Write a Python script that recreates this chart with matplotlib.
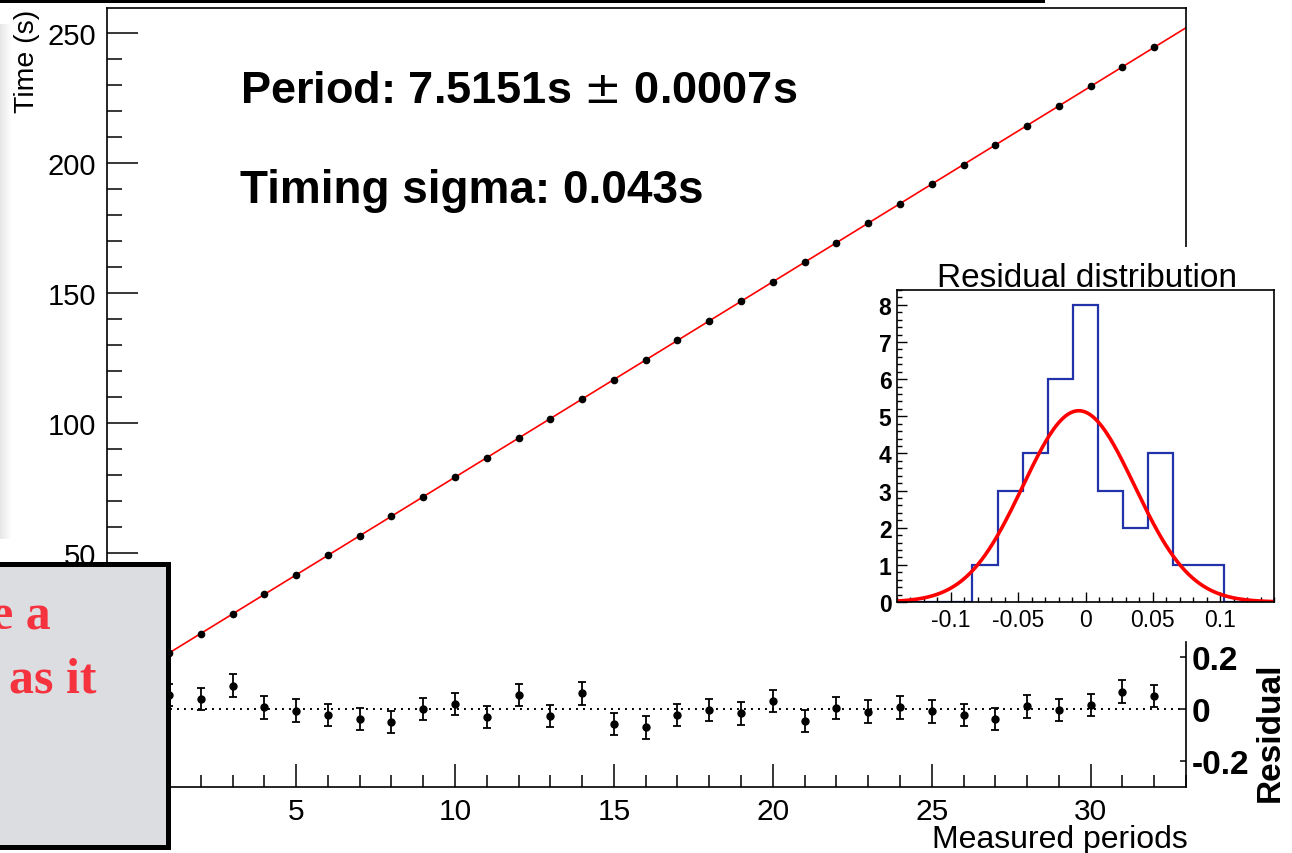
import numpy as np
import matplotlib.pyplot as plt
from matplotlib.patches import Rectangle
from matplotlib.ticker import MultipleLocator

W, H = 1292, 854
plt.rcParams['font.family'] = ['Liberation Sans', 'DejaVu Sans']

# data
periods = list(range(33))
times = [4.0, 11.5, 19.0, 26.6, 34.1, 41.6, 49.1, 56.6, 64.1, 71.6, 79.2,
         86.7, 94.2, 101.7, 109.2, 116.7, 124.2, 131.8, 139.3, 146.8, 154.3,
         161.8, 169.3, 176.8, 184.4, 191.9, 199.4, 206.9, 214.4, 221.9, 229.5,
         237.0, 244.5]
residuals = [0.030, 0.054, 0.038, 0.090, 0.006, -0.006, -0.022, -0.038, -0.051,
             0.000, 0.019, -0.030, 0.055, -0.026, 0.060, -0.058, -0.071, -0.022,
             -0.003, -0.017, 0.032, -0.047, 0.004, -0.010, 0.006, -0.009, -0.023,
             -0.038, 0.010, -0.003, 0.015, 0.067, 0.051]
timing_sigma = 0.043
period = 7.5151
period_err = 0.0007
t_offset = 4.0
time_ticks = [50, 100, 150, 200, 250]

# residual histogram (15 bins between -0.14 and 0.14)
hist_edges = np.linspace(-0.14, 0.14, 16)
hist_counts = [0, 0, 0, 1, 3, 4, 6, 8, 3, 2, 4, 1, 1, 0, 0]
gaus_amp, gaus_mean, gaus_sigma = 5.15, -0.005, 0.0415


def fpos(x0, y0, x1, y1):
    # pixel box -> figure fraction [left, bottom, width, height]
    return [x0 / W, 1 - y1 / H, (x1 - x0) / W, (y1 - y0) / H]


def fxy(x, y):
    return x / W, 1 - y / H


fig = plt.figure(figsize=(W / 100, H / 100), dpi=100)

# faint shadow on left edge
shade = fig.add_axes(fpos(0, 25, 12, 540), zorder=-1)
shade.imshow(np.linspace(0.9, 1.0, 50)[None, :], aspect='auto', cmap='gray',
             vmin=0, vmax=1, extent=(0, 1, 0, 1))
shade.axis('off')

# ---- main graph ----
ax = fig.add_axes(fpos(107, 9, 1186, 788), zorder=0)
ax.set_xlim(-0.95, 33)
ax.set_ylim(-40, 259.6)
xx = np.array(ax.get_xlim())
ax.plot(xx, t_offset + period * xx, color='red', lw=1.2)
ax.plot(periods, times, 'o', color='black', ms=4.5)
ax.spines['bottom'].set_visible(False)
ax.spines['right'].set_bounds(160, 259.6)
for s in ax.spines.values():
    s.set_linewidth(1.2)
ax.set_xticks([])
ax.set_yticks(time_ticks)
ax.yaxis.set_minor_locator(MultipleLocator(10))
ax.tick_params(axis='y', which='major', direction='in', length=22, width=1.1,
               labelsize=21, pad=8)
ax.tick_params(axis='y', which='minor', direction='in', length=11, width=1.1)
fig.text(*fxy(27, 61), 'Time (s)', rotation=90, ha='center', va='center',
         fontsize=20.5)

fig.text(*fxy(240, 103), 'Period: %.4fs $\\pm$ %.4fs' % (period, period_err),
         fontsize=32.5, fontweight='bold', va='baseline')
fig.text(*fxy(240, 203), 'Timing sigma: %.3fs' % timing_sigma,
         fontsize=33, fontweight='bold', va='baseline')

# ---- residual panel ----
axr = fig.add_axes(fpos(107, 643, 1186, 788), zorder=0.5)
axr.patch.set_alpha(0)
axr.set_xlim(-0.95, 33)
axr.set_ylim(-0.3, 0.258)
axr.axhline(0, color='black', lw=1.4, dashes=(1, 2.6))
axr.errorbar(periods, residuals, yerr=timing_sigma, fmt='o', color='black',
             ms=5, elinewidth=1.3, capsize=3, capthick=1.3)
axr.spines['top'].set_visible(False)
axr.spines['left'].set_visible(False)
for s in axr.spines.values():
    s.set_linewidth(1.2)
axr.yaxis.tick_right()
axr.xaxis.set_major_locator(MultipleLocator(5))
axr.xaxis.set_minor_locator(MultipleLocator(1))
axr.tick_params(axis='x', which='major', direction='in', length=16.5, width=1.1,
                labelsize=21.5, pad=7)
axr.tick_params(axis='x', which='minor', direction='in', length=8.5, width=1.1)
axr.set_yticks([-0.2, 0, 0.2])
axr.set_yticklabels(['-0.2', '0', '0.2'], fontweight='bold')
axr.tick_params(axis='y', direction='in', length=4.5, width=1.1,
                labelsize=24, pad=4)
fig.text(*fxy(1188, 848), 'Measured periods', ha='right', va='baseline',
         fontsize=23)
fig.text(*fxy(1270, 732), 'Residual', rotation=90, ha='center', va='center',
         fontsize=24, fontweight='bold')

# ---- inset: residual distribution ----
fig.patches.append(Rectangle(fxy(872, 632), 420 / W, 384 / H,
                             transform=fig.transFigure, facecolor='white',
                             edgecolor='none', zorder=1))
axi = fig.add_axes(fpos(897, 291, 1274, 603), zorder=2)
axi.stairs(hist_counts, hist_edges, color='#2233aa', lw=1.6)
gx = np.linspace(-0.14, 0.14, 300)
axi.plot(gx, gaus_amp * np.exp(-0.5 * ((gx - gaus_mean) / gaus_sigma) ** 2),
         color='red', lw=2.6)
axi.set_xlim(-0.14, 0.14)
axi.set_ylim(0, 8.4)
axi.set_xticks([-0.1, -0.05, 0, 0.05, 0.1])
axi.set_xticklabels(['-0.1', '-0.05', '0', '0.05', '0.1'])
axi.xaxis.set_minor_locator(MultipleLocator(0.01))
axi.yaxis.set_major_locator(MultipleLocator(1))
axi.yaxis.set_minor_locator(MultipleLocator(0.2))
for lab in axi.get_yticklabels():
    lab.set_fontweight('bold')
axi.tick_params(axis='both', which='major', direction='in', length=7, width=1,
                labelsize=16.5, pad=4)
axi.tick_params(axis='both', which='minor', direction='in', length=3.5, width=1)
for s in axi.spines.values():
    s.set_linewidth(1.2)
fig.text(*fxy(1087, 287), 'Residual distribution', ha='center', va='baseline',
         fontsize=24, zorder=3)

# ---- slide decorations on top ----
fig.patches.append(Rectangle(fxy(0, 4), 1045 / W, 4 / H,
                             transform=fig.transFigure, facecolor='black',
                             edgecolor='none', zorder=10))
fig.patches.append(Rectangle(fxy(-10, 848), 178 / W, 283 / H,
                             transform=fig.transFigure, facecolor='#dcdde0',
                             edgecolor='black', lw=3.6, zorder=10))
fig.text(*fxy(-9, 629), 'e a', family=['Liberation Serif', 'DejaVu Serif'],
         fontweight='bold', fontsize=36, color='#f5333f', va='baseline',
         zorder=11)
fig.text(*fxy(9, 693), 'as it', family=['Liberation Serif', 'DejaVu Serif'],
         fontweight='bold', fontsize=36, color='#f5333f', va='baseline',
         zorder=11)

fig.savefig('out.png', dpi=100)
